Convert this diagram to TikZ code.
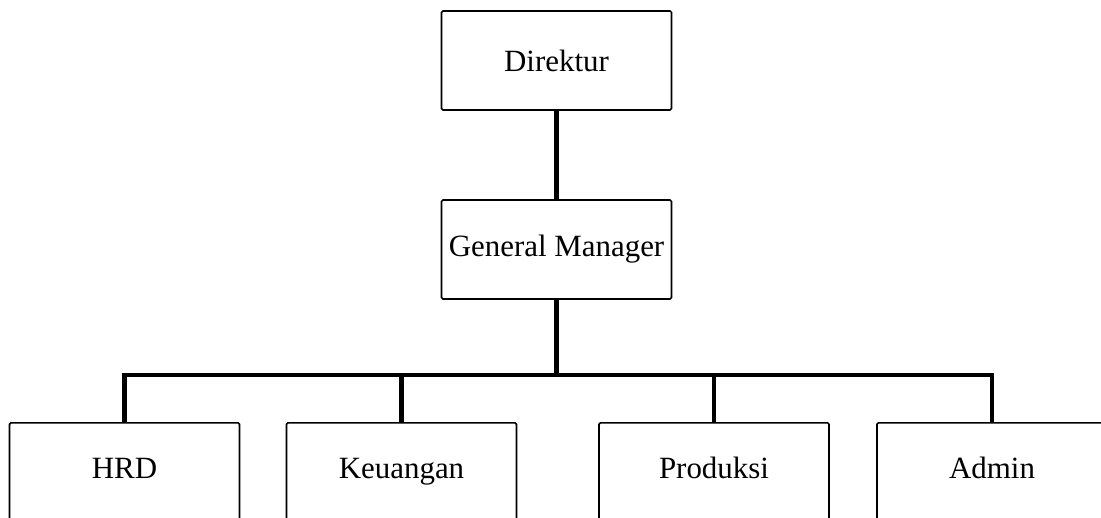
\documentclass[tikz,border=0pt]{standalone}
\usepackage{fontspec}
\setmainfont{Liberation Serif}
\usepackage{tikz}
\usetikzlibrary{positioning,calc}

\begin{document}
\begin{tikzpicture}[
    orgbox/.style={draw, line width=0.45pt, rounded corners=0.4pt, minimum width=2.30cm, minimum height=0.99cm, inner sep=0pt, font=\fontsize{8.8}{10}\selectfont},
    unitbox/.style={orgbox, anchor=north, minimum height=1.1cm, text height=0.22cm, text depth=0.2cm},
    link/.style={line width=1.2pt}
]
    \useasboundingbox (0,0) rectangle (11.01,5.17);
    \clip (0,0) rectangle (11.01,5.17);

    % Boxes
    \node[orgbox] (dir) at (5.565, 4.565) {Direktur};
    \node[orgbox] (gm) at (5.565, 2.675) {General Manager};
    \node[unitbox] (hrd) at (1.245, 0.95) {HRD};
    \node[unitbox] (keu) at (4.015, 0.95) {Keuangan};
    \node[unitbox] (prod) at (7.14, 0.95) {Produksi};
    \node[unitbox] (adm) at (9.92, 0.95) {Admin};

    % Lines
    \coordinate (bus) at (5.565, 1.42);
    \draw[link] (dir.south) -- (gm.north);
    \draw[link] (gm.south) -- (bus);
    \foreach \n in {hrd,keu,prod,adm}
        \draw[link] (bus) -| (\n.north);
\end{tikzpicture}
\end{document}
